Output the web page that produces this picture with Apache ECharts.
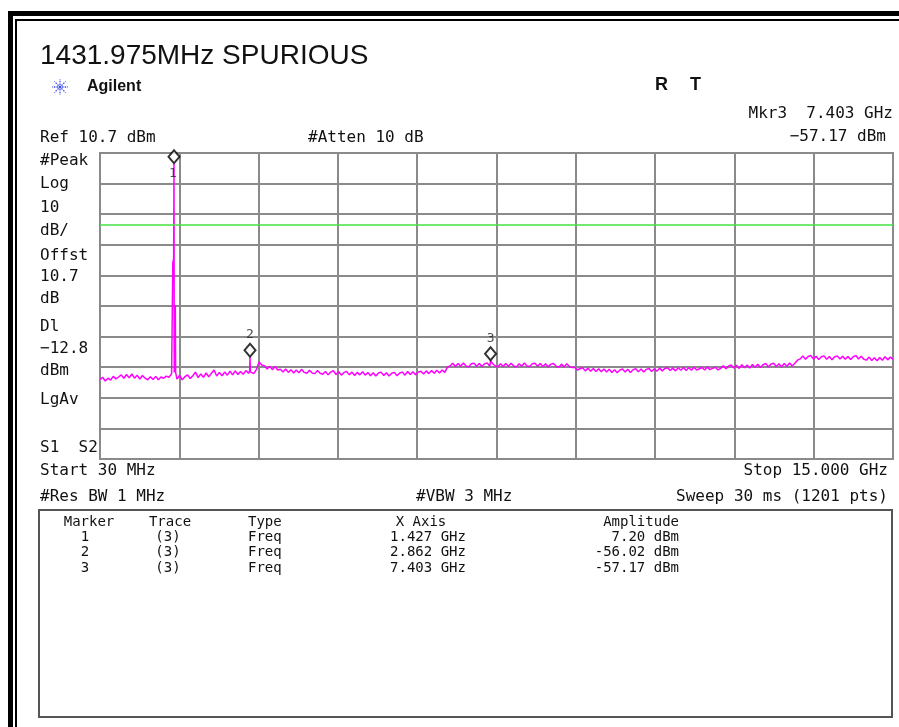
<!DOCTYPE html>
<html>
<head>
<meta charset="utf-8">
<script src="https://cdn.jsdelivr.net/npm/echarts@6/dist/echarts.min.js"></script>
<style>html,body{margin:0;padding:0;background:#fff;}#c{width:899px;height:727px;}</style>
</head>
<body>
<div id="c"></div>
<script>
// ---- data ----
const startGHz = 0.03;
const stopGHz = 15.0;
const refLevel = 10.7;      // dBm, top of screen
const dbPerDiv = 10;
const displayLine = -12.8;  // dBm
// noise-floor trace (dBm), evenly spaced from start to stop
const traceDbm = [
-63.4,-62.6,-63.8,-62.9,-63.5,-62.3,-63.1,-62.5,-61.8,-62.9,
-61.7,-62.8,-61.5,-62.9,-61.9,-63.2,-62.0,-62.9,-63.4,-62.4,
-63.3,-62.3,-63.4,-62.5,-62.9,-62.2,-62.6,-61.4,
-61.0,
-63.2,-62.0,-63.4,-62.4,-61.8,-63.0,-62.1,-60.9,-62.7,
-61.5,-62.6,-61.2,-62.4,-61.3,-60.2,-62.2,-61.0,-62.1,-60.9,
-61.9,-60.6,-61.8,-60.5,-61.7,-60.7,-61.6,-60.4,
-61.3,-60.3,-61.4,-60.0,
-57.6,-58.6,
-58.8,-59.9,-59.0,-60.1,-59.1,-60.2,
-60.0,-60.9,-59.9,-61.0,-60.1,-61.2,-60.2,-61.1,-60.0,-61.0,-61.3,-60.3,-61.2,-61.4,-60.4,-61.3,
-61.6,-60.7,-61.8,-60.9,-60.4,-61.7,-60.8,-61.9,-61.0,-60.7,-61.8,-60.9,-62.0,-61.0,-61.8,-60.8,
-61.9,-61.0,-62.1,-61.1,-62.2,-61.2,-60.9,-62.0,-61.1,-62.2,-61.3,-61.0,-62.1,-61.2,-60.9,-61.9,-60.7,-61.7,-60.8,-61.8,-60.9,
-60.6,-61.5,-60.5,-61.4,-60.4,-61.3,-60.3,-61.2,-60.2,-61.0,
-59.3,
-58.9,-58.0,-59.1,-58.1,-59.0,-57.9,-58.9,-59.2,-58.2,-58.0,
-59.0,-58.1,-59.1,-58.2,-57.9,-59.0,-58.1,-58.9,-59.2,-58.2,
-59.1,-58.1,-59.0,-58.0,-58.9,-59.2,-58.2,-59.0,-57.9,-58.9,
-59.1,-58.2,-58.0,-59.0,-58.1,-59.1,-58.2,-59.2,-58.3,-58.1,
-59.0,-59.3,-58.3,-59.2,-58.2,-59.1,-59.4,
-59.3,-60.2,-59.8,-59.5,-60.5,-59.6,-60.6,-59.7,-60.7,-59.8,
-60.8,-59.9,-60.9,-60.0,-61.0,-60.1,-61.1,-60.2,-59.9,-60.9,
-60.0,-61.0,-60.1,-59.8,-60.8,-59.9,-60.9,-60.0,-59.7,-60.7,
-59.8,-60.6,-59.6,-60.5,-59.7,-59.5,-60.4,-59.6,-60.5,-59.5,
-60.3,-59.4,-60.4,-59.5,-60.3,-59.3,-60.2,-59.8,-59.4,-60.2,-59.2,-60.1,-59.7,-59.3,-60.2,
-59.7,-58.8,-59.8,-58.9,-58.6,-59.6,-58.7,-59.7,-58.5,-59.5,
-58.6,-59.6,-58.4,-59.3,-58.3,-59.4,-58.5,-58.1,-59.2,-58.3,
-58.0,-59.1,-58.2,-59.2,-58.1,-59.0,-57.9,-58.9,-58.0,
-57.0,
-56.6,-55.6,-56.7,-55.8,-55.5,-56.6,-55.7,-56.8,-55.9,-55.6,
-56.7,-55.8,-56.9,-55.9,-55.6,-56.6,-55.7,-56.7,-55.8,-56.8,
-55.9,-55.5,-56.6,-55.7,-56.7,-57.0,-56.0,-57.1,-56.2,-57.2,
-56.1,-57.0,-55.9,-56.9,-56.0,-56.8
];
// spurious responses (extra sweep points)
const spurGHz = [1.398, 1.405, 1.413, 1.420, 1.427, 1.431, 1.452, 1.458, 2.855, 2.862, 2.869, 7.403];
const spurDbm = [-61.0, -25.0, -25.0, -24.0, 7.20, -55.0, -39.0, -61.0, -60.5, -56.02, -60.8, -57.17];
// markers
const markerNames = ['1', '2', '3'];
const markerGHz = [1.427, 2.862, 7.403];
const markerDbm = [7.20, -56.02, -57.17];
const markerTrace = ['(3)', '(3)', '(3)'];
const markerType = ['Freq', 'Freq', 'Freq'];
const markerXText = ['1.427 GHz', '2.862 GHz', '7.403 GHz'];
const markerAmpText = ['7.20 dBm', '-56.02 dBm', '-57.17 dBm'];

// ---- build ----
const stepGHz = (stopGHz - startGHz) / (traceDbm.length - 1);
const pts = traceDbm.map((v, i) => [startGHz + i * stepGHz, v]);
spurGHz.forEach((f, i) => pts.push([f, spurDbm[i]]));
pts.sort((a, b) => a[0] - b[0]);
const bottomLevel = refLevel - 10 * dbPerDiv;

const mono = '"DejaVu Sans Mono", "Liberation Mono", monospace';
const sans = '"Liberation Sans", Arial, sans-serif';
function txt(x, y, s, opt) {
  opt = opt || {};
  return { type: 'text', x: x, y: y, silent: true, style: {
    text: s, fill: opt.fill || '#111', font: (opt.weight || 'normal') + ' ' + (opt.size || 16) + 'px ' + (opt.family || mono),
    textAlign: opt.align || 'left', textVerticalAlign: 'middle' } };
}
const g = [];
// frame
g.push({ type: 'rect', shape: { x: 8, y: 11, width: 891, height: 5 }, style: { fill: '#000' } });
g.push({ type: 'rect', shape: { x: 8, y: 11, width: 5, height: 716 }, style: { fill: '#000' } });
g.push({ type: 'rect', shape: { x: 15, y: 19, width: 884, height: 2 }, style: { fill: '#000' } });
g.push({ type: 'rect', shape: { x: 15, y: 19, width: 2, height: 708 }, style: { fill: '#000' } });
// title and logo
g.push(txt(40, 56, '1431.975MHz SPURIOUS', { family: sans, size: 28 }));
for (let k = 0; k < 8; k++) {
  const a = k * Math.PI / 4;
  g.push({ type: 'line', shape: { x1: 60 + 2 * Math.cos(a), y1: 87 + 2 * Math.sin(a), x2: 60 + 8 * Math.cos(a), y2: 87 + 8 * Math.sin(a) },
    style: { stroke: '#3a4cf0', lineWidth: 1.3, lineDash: [1.5, 1.2] } });
}
g.push({ type: 'circle', shape: { cx: 60, cy: 87, r: 1.5 }, style: { fill: '#3a4cf0' } });
g.push(txt(87, 87, 'Agilent', { family: sans, size: 16, weight: 'bold' }));
g.push(txt(655, 85, 'R', { family: sans, size: 18, weight: 'bold' }));
g.push(txt(690, 85, 'T', { family: sans, size: 18, weight: 'bold' }));
g.push(txt(893, 114, 'Mkr3  7.403 GHz', { align: 'right' }));
g.push(txt(886, 137, '\u221257.17 dBm', { align: 'right' }));
g.push(txt(40, 138, 'Ref 10.7 dBm'));
g.push(txt(308, 138, '#Atten 10 dB'));
const leftLab = [['#Peak', 161], ['Log', 184], ['10', 208], ['dB/', 231], ['Offst', 256], ['10.7', 277], ['dB', 299],
  ['Dl', 327], ['\u221212.8', 349], ['dBm', 371], ['LgAv', 400], ['S1  S2', 448]];
leftLab.forEach(l => g.push(txt(40, l[1], l[0])));
g.push(txt(40, 471, 'Start 30 MHz'));
g.push(txt(888, 471, 'Stop 15.000 GHz', { align: 'right' }));
g.push(txt(40, 497, '#Res BW 1 MHz'));
g.push(txt(416, 497, '#VBW 3 MHz'));
g.push(txt(888, 497, 'Sweep 30 ms (1201 pts)', { align: 'right' }));
// marker table
g.push({ type: 'rect', shape: { x: 39, y: 510, width: 853, height: 207 }, style: { fill: '#fff', stroke: '#555', lineWidth: 2 } });
const ts = 14;
g.push(txt(89, 522, 'Marker', { size: ts, align: 'center' }));
g.push(txt(170, 522, 'Trace', { size: ts, align: 'center' }));
g.push(txt(248, 522, 'Type', { size: ts }));
g.push(txt(421, 522, 'X Axis', { size: ts, align: 'center' }));
g.push(txt(679, 522, 'Amplitude', { size: ts, align: 'right' }));
markerNames.forEach((m, i) => {
  const y = 537 + i * 15.5;
  g.push(txt(85, y, m, { size: ts, align: 'center' }));
  g.push(txt(168, y, markerTrace[i], { size: ts, align: 'center' }));
  g.push(txt(248, y, markerType[i], { size: ts }));
  g.push(txt(428, y, markerXText[i], { size: ts, align: 'center' }));
  g.push(txt(679, y, markerAmpText[i], { size: ts, align: 'right' }));
});

const chart = echarts.init(document.getElementById('c'), null, { renderer: 'canvas' });
chart.setOption({
  animation: false,
  backgroundColor: '#fff',
  grid: { left: 100, right: 6, top: 153, bottom: 268, show: true, borderColor: '#8a8a8a', borderWidth: 2, backgroundColor: 'transparent' },
  xAxis: [
    { type: 'value', min: startGHz, max: stopGHz, show: false, splitLine: { show: false } },
    { type: 'value', min: 0, max: 10, interval: 1, axisLine: { show: false }, axisTick: { show: false }, axisLabel: { show: false },
      splitLine: { show: true, lineStyle: { color: '#8a8a8a', width: 2 } } }
  ],
  yAxis: [
    { type: 'value', min: bottomLevel, max: refLevel, show: false, splitLine: { show: false } },
    { type: 'value', min: 0, max: 10, interval: 1, axisLine: { show: false }, axisTick: { show: false }, axisLabel: { show: false },
      splitLine: { show: true, lineStyle: { color: '#8a8a8a', width: 2 } } }
  ],
  series: [
    { type: 'line', xAxisIndex: 0, yAxisIndex: 0, data: pts, showSymbol: false, symbol: 'none', z: 3,
      lineStyle: { color: '#ff00ff', width: 1.5 },
      markLine: { silent: true, symbol: 'none', label: { show: false }, animation: false,
        lineStyle: { color: '#44e244', width: 1.5, type: 'solid' }, data: [{ yAxis: displayLine }] } },
    { type: 'scatter', xAxisIndex: 0, yAxisIndex: 0, z: 5,
      symbol: 'diamond', symbolSize: [11, 13], symbolOffset: [0, -7],
      itemStyle: { color: '#fff', borderColor: '#000', borderWidth: 2 },
      data: markerGHz.map((f, i) => ({ value: [f, markerDbm[i]], name: markerNames[i],
        label: i === 0 ? { position: 'bottom', distance: 3, offset: [-1, 0] } : { position: 'top', distance: 1 } })),
      label: { show: true, formatter: p => p.name, fontFamily: mono, fontSize: 13, color: '#222' } }
  ],
  graphic: g
});
</script>
</body>
</html>
